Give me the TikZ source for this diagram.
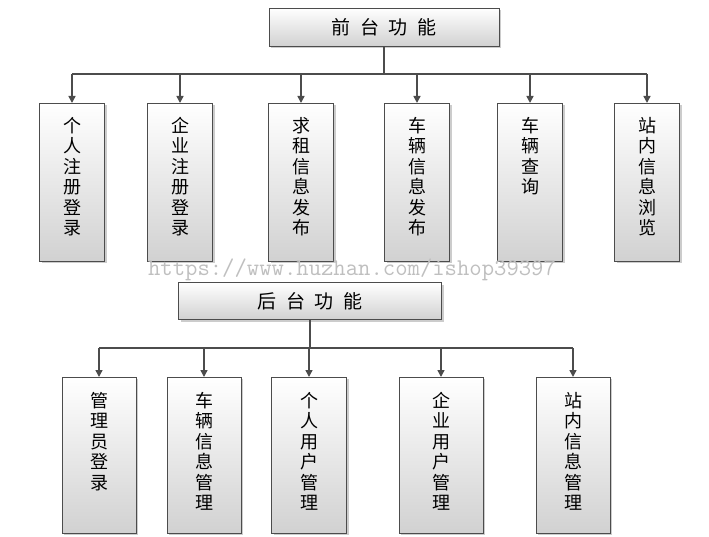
\documentclass[tikz,border=0pt]{standalone}
\usepackage{fontspec}
\newfontfamily\cjk{Noto Sans CJK SC}
\usetikzlibrary{positioning,shadows,arrows.meta}
\tikzset{
	box/.style={draw=black!70, line width=0.8pt, top color=white, bottom color=black!18,
		drop shadow={shadow xshift=2pt, shadow yshift=-2pt, fill=black!40}},
	vtext/.style={font=\cjk\fontsize{18}{20.5}\selectfont, align=center, inner sep=0pt, anchor=north},
	link/.style={draw=black!70, line width=1.5pt},
	arr/.style={link, -{Triangle[length=7pt,width=7pt]}}
}
\begin{document}
\begin{tikzpicture}[x=1pt,y=-1pt]
	\useasboundingbox (0,0) rectangle (709,537);
	% front end
	\node[box, minimum width=230, minimum height=38, font=\cjk\fontsize{19}{20}\selectfont] (front) at (384,27) {前\enspace 台\enspace 功\enspace 能};
	\coordinate (fj) at (384,74);
	\draw[link] (front.south) -- (fj);
	\draw[link] (72,74) -- (647,74);
	\foreach \n/\x/\t in {f1/72/{个\\人\\注\\册\\登\\录}, f2/180/{企\\业\\注\\册\\登\\录},
		f3/301/{求\\租\\信\\息\\发\\布}, f4/417/{车\\辆\\信\\息\\发\\布},
		f5/530/{车\\辆\\查\\询}, f6/647/{站\\内\\信\\息\\浏\\览}} {
		\node[box, minimum width=65, minimum height=158, anchor=north] (\n) at (\x,103) {};
		\node[vtext, below=14pt of \n.north] (\n t) {\t};
		\coordinate (\n h) at (\x,74);
		\draw[arr] (\n h) -- (\n.north);
	}
	% watermark
	\node[font=\ttfamily\fontsize{24}{26}\selectfont, text=black!25] (wm) at (352,270) {https://www.huzhan.com/ishop39397};
	% back end
	\node[box, minimum width=263, minimum height=37, font=\cjk\fontsize{19}{20}\selectfont] (back) at (310,301) {后\enspace 台\enspace 功\enspace 能};
	\coordinate (bj) at (310,348);
	\draw[link] (back.south) -- (bj);
	\draw[link] (99,348) -- (573,348);
	\foreach \n/\x/\w/\t in {b1/99/74/{管\\理\\员\\登\\录}, b2/204/74/{车\\辆\\信\\息\\管\\理},
		b3/309/75/{个\\人\\用\\户\\管\\理}, b4/441/84/{企\\业\\用\\户\\管\\理},
		b5/573/74/{站\\内\\信\\息\\管\\理}} {
		\node[box, minimum width=\w, minimum height=156, anchor=north] (\n) at (\x,377) {};
		\node[vtext, below=15pt of \n.north] (\n t) {\t};
		\coordinate (\n h) at (\x,348);
		\draw[arr] (\n h) -- (\n.north);
	}
\end{tikzpicture}
\end{document}
